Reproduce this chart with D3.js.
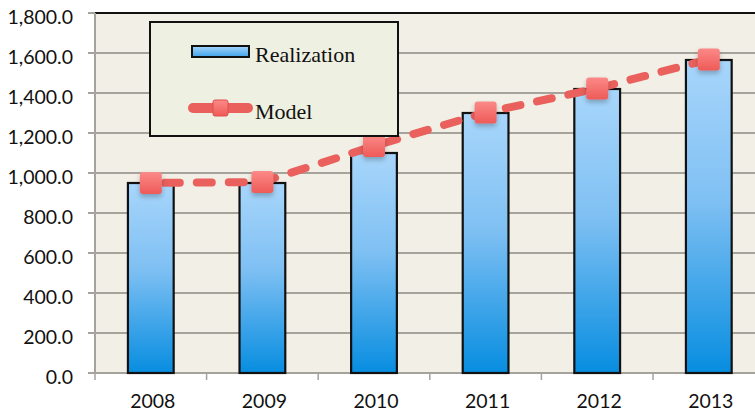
<!DOCTYPE html>
<html><head><meta charset="utf-8">
<script src="https://cdn.jsdelivr.net/npm/d3@7"></script>
<style>body{margin:0;background:#fff;}svg{display:block;}</style>
</head><body>
<svg id="c" width="755" height="414"></svg>
<script>
const years = ["2008","2009","2010","2011","2012","2013"];
const realization = [950, 950, 1100, 1300, 1420, 1565];
const model = [950, 955, 1135, 1302, 1423, 1568];
const yTicks = [0,200,400,600,800,1000,1200,1400,1600,1800];
const legendLabels = ["Realization","Model"];

const svg = d3.select("#c");
const L = 95, R = 764.6, T = 13, B = 373;
const x = d3.scaleBand().domain(years).range([L, R]).paddingInner(0.59).paddingOuter(0.295);
const y = d3.scaleLinear().domain([0,1800]).range([B, T]);

const defs = svg.append("defs");
const g1 = defs.append("linearGradient").attr("id","barG").attr("x1",0).attr("y1",0).attr("x2",0).attr("y2",1);
g1.append("stop").attr("offset","0%").attr("stop-color","#a8d6fb");
g1.append("stop").attr("offset","45%").attr("stop-color","#7fc0f3");
g1.append("stop").attr("offset","100%").attr("stop-color","#078de0");
const g2 = defs.append("linearGradient").attr("id","mkG").attr("x1",0).attr("y1",0).attr("x2",0).attr("y2",1);
g2.append("stop").attr("offset","0%").attr("stop-color","#fb8a88");
g2.append("stop").attr("offset","100%").attr("stop-color","#ee5a58");
const lg = defs.append("linearGradient").attr("id","legBar").attr("x1",0).attr("y1",0).attr("x2",0).attr("y2",1);
lg.append("stop").attr("offset","0%").attr("stop-color","#a8d6fb");
lg.append("stop").attr("offset","100%").attr("stop-color","#3fa3ea");
const f = defs.append("filter").attr("id","sh").attr("x","-50%").attr("y","-50%").attr("width","200%").attr("height","200%");
f.append("feDropShadow").attr("dx",0).attr("dy",3).attr("stdDeviation",2.5).attr("flood-color","#000").attr("flood-opacity",0.25);

// plot background
svg.append("rect").attr("x",L).attr("y",T).attr("width",R-L).attr("height",B-T).attr("fill","#f2efe7");

// gridlines + ticks
svg.append("g").selectAll("line").data(yTicks).join("line")
  .attr("x1",L-7).attr("x2",R).attr("y1",d=>y(d)).attr("y2",d=>y(d))
  .attr("stroke","#a6a39d").attr("stroke-width",2);
// top border
svg.append("line").attr("x1",L).attr("x2",R).attr("y1",T).attr("y2",T).attr("stroke","#111").attr("stroke-width",2);
// left axis line
svg.append("line").attr("x1",L).attr("x2",L).attr("y1",T).attr("y2",B).attr("stroke","#a6a39d").attr("stroke-width",2);

// y labels
const fmt = d3.format(",.1f");
svg.append("g").selectAll("text").data(yTicks).join("text")
  .attr("x",73).attr("y",d=>y(d)+10.5).attr("text-anchor","end")
  .attr("font-family","Lato, 'Open Sans', sans-serif").attr("font-size",19.5).attr("fill","#111")
  .text(d=>fmt(d));

// x ticks
const bounds = years.map((d,i)=>L + i*(R-L)/years.length);
svg.append("g").selectAll("line").data(bounds).join("line")
  .attr("x1",d=>d).attr("x2",d=>d).attr("y1",B).attr("y2",B+7)
  .attr("stroke","#a6a39d").attr("stroke-width",1.5);

// bars
svg.append("g").selectAll("rect").data(years).join("rect")
  .attr("x",d=>x(d)).attr("width",x.bandwidth())
  .attr("y",(d,i)=>y(realization[i])).attr("height",(d,i)=>B-y(realization[i]))
  .attr("fill","url(#barG)").attr("stroke","#111").attr("stroke-width",2.2);

// x labels
svg.append("g").selectAll("text").data(years).join("text")
  .attr("x",d=>x(d)+x.bandwidth()/2+2).attr("y",408).attr("text-anchor","middle")
  .attr("font-family","Lato, 'Open Sans', sans-serif").attr("font-size",19.5).attr("fill","#111")
  .text(d=>d);

// model line
const line = d3.line().x((d,i)=>x(years[i])+x.bandwidth()/2).y(d=>y(d));
svg.append("path").datum(model).attr("d",line).attr("fill","none")
  .attr("stroke","#e9605c").attr("stroke-width",8).attr("stroke-linecap","round")
  .attr("stroke-dasharray","15,17").attr("stroke-dashoffset",-14);
const ms = 22;
svg.append("g").selectAll("rect").data(model).join("rect")
  .attr("x",(d,i)=>x(years[i])+x.bandwidth()/2-ms/2).attr("y",d=>y(d)-ms/2)
  .attr("width",ms).attr("height",ms).attr("rx",3)
  .attr("fill","url(#mkG)").attr("filter","url(#sh)");

// legend
const lgG = svg.append("g");
lgG.append("rect").attr("x",150).attr("y",22).attr("width",248).attr("height",114)
  .attr("fill","#eef0e1").attr("stroke","#111").attr("stroke-width",2);
lgG.append("rect").attr("x",192).attr("y",46).attr("width",57).attr("height",11)
  .attr("fill","url(#legBar)").attr("stroke","#111").attr("stroke-width",2);
lgG.append("line").attr("x1",193).attr("x2",248).attr("y1",108).attr("y2",108)
  .attr("stroke","#e9605c").attr("stroke-width",10).attr("stroke-linecap","round");
lgG.append("rect").attr("x",213).attr("y",100).attr("width",15).attr("height",16).attr("rx",2)
  .attr("fill","url(#mkG)").attr("stroke","#e0504e").attr("stroke-width",1);
lgG.selectAll("text").data(legendLabels).join("text")
  .attr("x",255).attr("y",(d,i)=>i===0?62:119)
  .attr("font-family","'Liberation Serif', 'DejaVu Serif', serif").attr("font-size",22).attr("fill","#111")
  .text(d=>d);
</script>
</body></html>
